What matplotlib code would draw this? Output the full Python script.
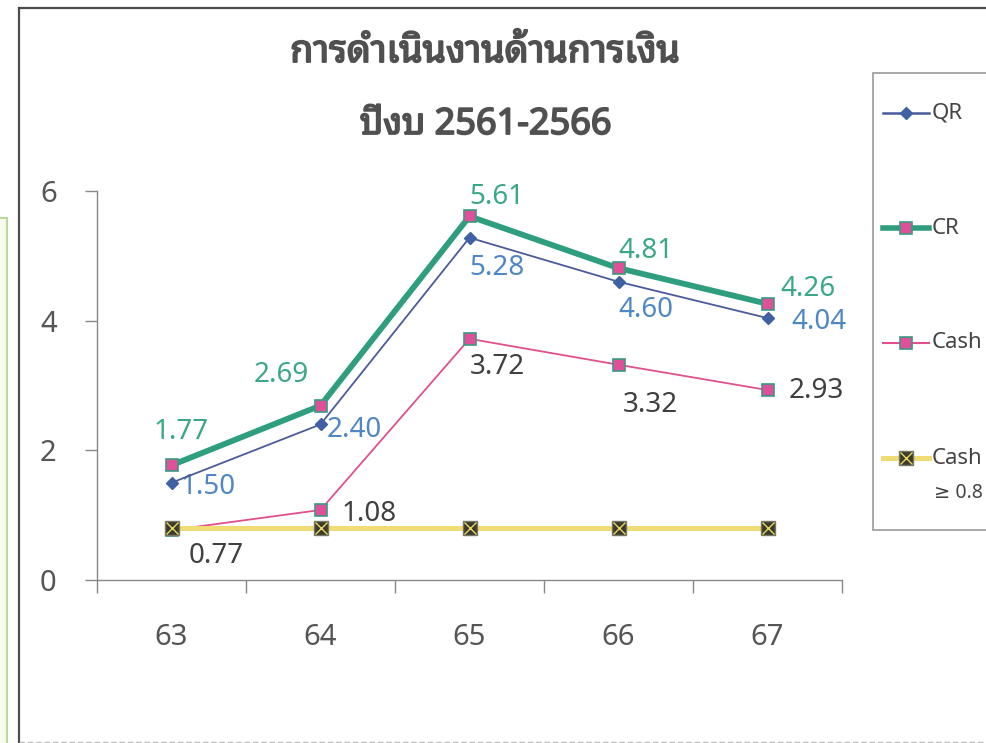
import matplotlib
matplotlib.use("Agg")
import matplotlib.pyplot as plt
import matplotlib.patheffects as pe
from matplotlib.lines import Line2D
from matplotlib.patches import Rectangle

plt.rcParams['font.family'] = ['Noto Sans', 'Noto Sans Thai Looped', 'DejaVu Sans']

# data
years = ["63", "64", "65", "66", "67"]
qr = [1.50, 2.40, 5.28, 4.60, 4.04]
cr = [1.77, 2.69, 5.61, 4.81, 4.26]
cash = [0.77, 1.08, 3.72, 3.32, 2.93]
cash_target = [0.8, 0.8, 0.8, 0.8, 0.8]

title_1 = "การดำเนินงานด้านการเงิน"
title_2 = "ปีงบ 2561-2566"

# label offsets (points) for data labels
cr_offsets = [(7, 24), (-28, 22), (20, 14), (20, 12), (29, 11)]
qr_offsets = [(26, -3), (24, -4), (20, -22), (20, -20), (37, -3)]
cash_offsets = [(32, -19), (35, -3), (20, -20), (23, -29), (35, -1)]

GRAY = "#555555"
QR_LINE = "#4a5b9c"
QR_LABEL = "#4f86c6"
CR_LINE = "#2f9e7e"
CR_LABEL = "#3aa884"
PINK = "#e0508f"
YELLOW = "#f0dc74"

fig = plt.figure(figsize=(9.86, 7.43), dpi=100)

# outer frame of the chart area and the neighbouring cell
fig.add_artist(Line2D([19 / 986, 19 / 986], [0, 1 - 8 / 743], transform=fig.transFigure, color="#4d4d4d", lw=1.6))
fig.add_artist(Line2D([19 / 986, 1], [1 - 8 / 743, 1 - 8 / 743], transform=fig.transFigure, color="#4d4d4d", lw=1.6))
fig.add_artist(Line2D([19 / 986, 1], [1.5 / 743, 1.5 / 743], transform=fig.transFigure, color="#bbbbbb", lw=1, ls=(0, (4, 2))))
fig.add_artist(Rectangle((-0.01, -0.01), 7 / 986 + 0.01, (743 - 218) / 743 + 0.01, transform=fig.transFigure,
                         facecolor="#f6faef", edgecolor="#b9d99c", lw=1.5))

ax = fig.add_axes([97 / 986, 163 / 743, 745 / 986, 389 / 743])
x = list(range(len(years)))

ax.plot(x, cash, color=PINK, lw=1.3, marker="s", markersize=8,
        markerfacecolor="#e0509a", markeredgecolor="#3a9a80", markeredgewidth=1.2, zorder=2)
ax.plot(x, cash_target, color=YELLOW, lw=3.6, marker="s", markersize=10,
        markerfacecolor="#3b3a2c", markeredgecolor="#777766", markeredgewidth=1, zorder=3)
ax.plot(x, cash_target, ls="none", marker="x", markersize=8, color="#e8d860", markeredgewidth=1, zorder=4)
ax.plot(x, qr, color=QR_LINE, lw=1.3, marker="D", markersize=6.5,
        markerfacecolor="#4060a4", markeredgecolor="#4060a4", zorder=5)
ax.plot(x, cr, color=CR_LINE, lw=4.2, marker="s", markersize=8,
        markerfacecolor="#e0509a", markeredgecolor="#3a9a80", markeredgewidth=1.2, zorder=6)

for xi, v, off in zip(x, cr, cr_offsets):
    ax.annotate(f"{v:.2f}", (xi, v), xytext=off, textcoords="offset points",
                ha="center", va="center", fontsize=20, color=CR_LABEL)
for xi, v, off in zip(x, qr, qr_offsets):
    ax.annotate(f"{v:.2f}", (xi, v), xytext=off, textcoords="offset points",
                ha="center", va="center", fontsize=20, color=QR_LABEL)
for xi, v, off in zip(x, cash, cash_offsets):
    ax.annotate(f"{v:.2f}", (xi, v), xytext=off, textcoords="offset points",
                ha="center", va="center", fontsize=20, color="#404040")

ax.set_xlim(-0.5, len(years) - 0.5)
ax.set_ylim(0, 6)
ax.set_yticks([0, 2, 4, 6])
ax.set_xticks(x)
ax.set_xticklabels(years)
ax.set_xticks([i - 0.5 for i in range(len(years) + 1)], minor=True)
ax.tick_params(axis="x", which="major", length=0, pad=31, labelsize=21, labelcolor=GRAY)
ax.tick_params(axis="x", which="minor", length=9, width=1, color="#888888", direction="out")
ax.tick_params(axis="y", length=9, width=1, color="#888888", pad=20, labelsize=21, labelcolor=GRAY)
for s in ["top", "right"]:
    ax.spines[s].set_visible(False)
for s in ["left", "bottom"]:
    ax.spines[s].set_color("#888888")
    ax.spines[s].set_linewidth(1)

# title (stroke to get the heavy look of the original)
bold = [pe.withStroke(linewidth=1.3, foreground="#505050")]
fig.text(485 / 986, 1 - 52 / 743, title_1, ha="center", va="center", fontsize=27, color="#505050", path_effects=bold)
fig.text(486 / 986, 1 - 125 / 743, title_2, ha="center", va="center", fontsize=26, color="#505050", path_effects=bold)

# legend box drawn in pixel coordinates
lax = fig.add_axes([873 / 986, 213 / 743, 140 / 986, 457 / 743])
lax.set_xlim(873, 1013)
lax.set_ylim(530, 73)
lax.axis("off")
lax.add_patch(Rectangle((873, 73), 200, 457, facecolor="white", edgecolor="#999999", lw=1.2, clip_on=False))
lx = [883, 906, 929]
lax.plot(lx, [113] * 3, color=QR_LINE, lw=1.8, marker="D", markersize=6.5, markevery=[1],
         markerfacecolor="#4060a4", markeredgecolor="#4060a4")
lax.plot(lx, [228] * 3, color=CR_LINE, lw=4, marker="s", markersize=8, markevery=[1],
         markerfacecolor="#e0509a", markeredgecolor="#3a9a80", markeredgewidth=1.2)
lax.plot(lx, [343] * 3, color=PINK, lw=1.5, marker="s", markersize=8, markevery=[1],
         markerfacecolor="#e0509a", markeredgecolor="#3a9a80", markeredgewidth=1.2)
lax.plot(lx, [458] * 3, color=YELLOW, lw=3.6, marker="s", markersize=10, markevery=[1],
         markerfacecolor="#3b3a2c", markeredgecolor="#777766", markeredgewidth=1)
lax.plot([906], [458], ls="none", marker="x", markersize=8, color="#e8d860", markeredgewidth=1)
for yy, lab in zip([113, 228, 343, 458], ["QR", "CR", "Cash", "Cash"]):
    lax.text(932, yy, lab, ha="left", va="center", fontsize=16, color="#444444")
lax.text(934, 493, "≥ 0.8", ha="left", va="center", fontsize=14, color="#444444")

fig.savefig("out.png", dpi=100)
